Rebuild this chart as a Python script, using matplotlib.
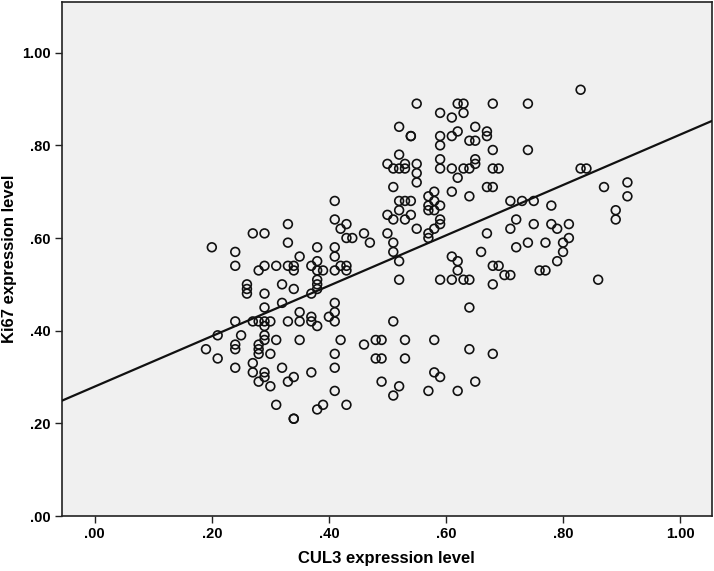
import numpy as np
import matplotlib
matplotlib.use("Agg")
import matplotlib.pyplot as plt

# CUL3 (x) and Ki67 (y) expression levels
cul3 = [
    0.55, 0.62, 0.63, 0.59, 0.61, 0.63, 0.52, 0.54, 0.54, 0.59, 0.61, 0.62, 0.65, 0.64, 0.65, 0.67, 0.67,
    0.59, 0.52, 0.50, 0.51, 0.52, 0.53, 0.53, 0.55, 0.55, 0.55, 0.59, 0.59, 0.61, 0.63, 0.64, 0.65, 0.65,
    0.62, 0.51, 0.61, 0.64, 0.67, 0.68, 0.41, 0.52, 0.53, 0.54, 0.57, 0.58, 0.58, 0.57, 0.59, 0.50, 0.52,
    0.54, 0.57, 0.58,
    0.68, 0.74, 0.68, 0.74, 0.68, 0.69, 0.83, 0.84, 0.71, 0.73, 0.75, 0.78, 0.87, 0.91, 0.91, 0.89, 0.83,
    0.20, 0.24, 0.24, 0.27, 0.29, 0.33, 0.33, 0.35, 0.38, 0.38, 0.28, 0.29, 0.31, 0.33, 0.34, 0.34, 0.37,
    0.38, 0.39, 0.26, 0.26, 0.26, 0.29, 0.32, 0.34, 0.38, 0.38, 0.38, 0.37, 0.29, 0.32, 0.35, 0.24, 0.27,
    0.28, 0.29, 0.30, 0.33, 0.35, 0.37, 0.37,
    0.41, 0.42, 0.43, 0.43, 0.44, 0.46, 0.47, 0.51, 0.53, 0.50, 0.51, 0.51, 0.52, 0.52, 0.55, 0.58, 0.57,
    0.57, 0.59, 0.59, 0.41, 0.41, 0.42, 0.43, 0.43, 0.41, 0.61, 0.62, 0.62, 0.66, 0.67, 0.59, 0.61, 0.63,
    0.64, 0.41, 0.41, 0.40, 0.41, 0.51, 0.64,
    0.72, 0.71, 0.75, 0.78, 0.79, 0.81, 0.89, 0.72, 0.74, 0.77, 0.80, 0.81, 0.80, 0.79, 0.68, 0.69, 0.70,
    0.71, 0.76, 0.77, 0.68, 0.86,
    0.29, 0.38, 0.21, 0.25, 0.29, 0.29, 0.31, 0.35, 0.19, 0.21, 0.24, 0.24, 0.28, 0.28, 0.28, 0.30, 0.24,
    0.27, 0.27, 0.29, 0.29, 0.28, 0.30, 0.32, 0.34, 0.33, 0.37, 0.31, 0.34, 0.34, 0.38, 0.39,
    0.42, 0.46, 0.48, 0.49, 0.53, 0.58, 0.64, 0.41, 0.41, 0.48, 0.49, 0.53, 0.58, 0.59, 0.49, 0.52, 0.51,
    0.41, 0.57, 0.62, 0.65, 0.43, 0.68,
]
ki67 = [
    0.89, 0.89, 0.89, 0.87, 0.86, 0.87, 0.84, 0.82, 0.82, 0.82, 0.82, 0.83, 0.84, 0.81, 0.81, 0.83, 0.82,
    0.80, 0.78, 0.76, 0.75, 0.75, 0.76, 0.75, 0.76, 0.74, 0.72, 0.77, 0.75, 0.75, 0.75, 0.75, 0.77, 0.76,
    0.73, 0.71, 0.70, 0.69, 0.71, 0.71, 0.68, 0.68, 0.68, 0.68, 0.69, 0.70, 0.68, 0.67, 0.67, 0.65, 0.66,
    0.65, 0.66, 0.66,
    0.89, 0.89, 0.79, 0.79, 0.75, 0.75, 0.75, 0.75, 0.68, 0.68, 0.68, 0.67, 0.71, 0.72, 0.69, 0.66, 0.92,
    0.58, 0.57, 0.54, 0.61, 0.61, 0.63, 0.59, 0.56, 0.58, 0.55, 0.53, 0.54, 0.54, 0.54, 0.54, 0.53, 0.54,
    0.53, 0.53, 0.50, 0.49, 0.48, 0.48, 0.50, 0.49, 0.51, 0.50, 0.49, 0.48, 0.45, 0.46, 0.44, 0.42, 0.42,
    0.42, 0.42, 0.42, 0.42, 0.42, 0.43, 0.42,
    0.64, 0.62, 0.63, 0.60, 0.60, 0.61, 0.59, 0.64, 0.64, 0.61, 0.59, 0.57, 0.55, 0.51, 0.62, 0.62, 0.61,
    0.60, 0.64, 0.63, 0.58, 0.56, 0.54, 0.54, 0.53, 0.53, 0.56, 0.55, 0.53, 0.57, 0.61, 0.51, 0.51, 0.51,
    0.51, 0.46, 0.44, 0.43, 0.42, 0.42, 0.45,
    0.64, 0.62, 0.63, 0.63, 0.62, 0.63, 0.64, 0.58, 0.59, 0.59, 0.59, 0.60, 0.57, 0.55, 0.54, 0.54, 0.52,
    0.52, 0.53, 0.53, 0.50, 0.51,
    0.41, 0.41, 0.39, 0.39, 0.39, 0.38, 0.38, 0.38, 0.36, 0.34, 0.37, 0.36, 0.37, 0.36, 0.35, 0.35, 0.32,
    0.33, 0.31, 0.31, 0.30, 0.29, 0.28, 0.32, 0.30, 0.29, 0.31, 0.24, 0.21, 0.21, 0.23, 0.24,
    0.38, 0.37, 0.38, 0.38, 0.38, 0.38, 0.36, 0.35, 0.32, 0.34, 0.34, 0.34, 0.31, 0.30, 0.29, 0.28, 0.26,
    0.27, 0.27, 0.27, 0.29, 0.24, 0.35,
]

x_ticks = [0.0, 0.2, 0.4, 0.6, 0.8, 1.0]
y_ticks = [0.0, 0.2, 0.4, 0.6, 0.8, 1.0]

plt.rcParams['font.family'] = ['Liberation Sans', 'DejaVu Sans']

def spss_fmt(v):
    s = '%.2f' % v
    return s if v >= 1 else s[1:]

fig = plt.figure(figsize=(7.14, 5.71), dpi=100)
ax = fig.add_axes([0.0868, 0.0963, 0.9100, 0.9007])
ax.set_facecolor('#f0f0f0')

x = np.array(cul3)
y = np.array(ki67)
ax.scatter(x, y, s=40, facecolors='none', edgecolors='#111111', linewidths=1.2, zorder=3)

# least squares fit line across the full axis width
slope, intercept = np.polyfit(x, y, 1)
xlim = (-0.056, 1.054)
xx = np.array(xlim)
ax.plot(xx, intercept + slope * xx, color='#111111', lw=1.6, zorder=4)

ax.set_xlim(*xlim)
ax.set_ylim(0, 1.11)
ax.set_xticks(x_ticks)
ax.set_yticks(y_ticks)
ax.set_xticklabels([spss_fmt(v) for v in x_ticks], fontweight='bold', fontsize=10.5)
ax.set_yticklabels([spss_fmt(v) for v in y_ticks], fontweight='bold', fontsize=10.5)
ax.tick_params(direction='out', length=5, width=1, color='#222222', pad=3)
for sp in ax.spines.values():
    sp.set_color('#222222')
    sp.set_linewidth(1.2)

ax.set_xlabel('CUL3 expression level', fontsize=12, fontweight='bold', labelpad=7)
ax.set_ylabel('Ki67 expression level', fontsize=12, fontweight='bold', labelpad=4)

fig.savefig('out.png', dpi=100)
